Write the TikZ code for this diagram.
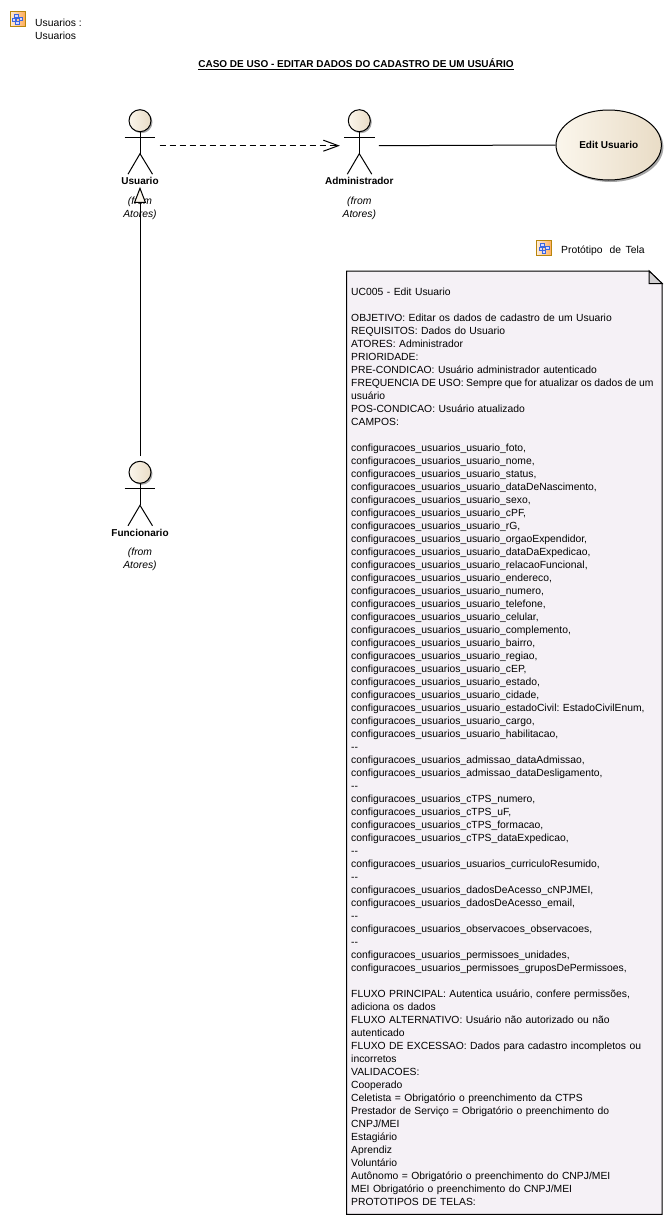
\documentclass[tikz,border=0pt]{standalone}
\usepackage{fontspec}
\setmainfont{Liberation Sans}
\usetikzlibrary{shapes.geometric, arrows.meta, positioning, calc, shadows, backgrounds}
\definecolor{atorclaro}{HTML}{FBF6EC}
\definecolor{atorescuro}{HTML}{E9DCC6}
\definecolor{notafundo}{HTML}{F5F1F6}
\definecolor{notasombra}{HTML}{B4B4B4}
\definecolor{notadobra}{HTML}{D2D0D2}
\definecolor{iconeborda}{HTML}{B8860B}
\definecolor{iconeazul}{HTML}{3A66E0}
\tikzstyle{texto} = [inner sep=0pt, align=left, font=\fontsize{10.35}{13}\selectfont\frenchspacing]
\tikzstyle{ator} = [rectangle, minimum width=38.6pt, minimum height=82pt, inner sep=0pt]
\tikzstyle{atornome} = [inner sep=0pt, font=\fontsize{10}{13}\selectfont\bfseries]
\tikzstyle{atororigem} = [inner sep=0pt, align=center, font=\fontsize{10.35}{13}\selectfont\itshape]
\tikzstyle{usecase} = [ellipse, minimum width=105.4pt, minimum height=70pt, inner sep=0pt, draw=black, line width=1pt, left color=atorclaro, right color=atorescuro, drop shadow={shadow xshift=2pt, shadow yshift=-2pt, fill=black!35, opacity=1}, font=\fontsize{10}{13}\selectfont\bfseries]
\tikzstyle{linha} = [line width=1pt, black]
\tikzstyle{dependencia} = [linha, dash pattern=on 6.5pt off 3.5pt, -{Straight Barb[length=15pt,width=11pt]}]
\tikzstyle{heranca} = [linha, -{Triangle[length=16pt,width=12pt,fill=atorclaro]}]
\tikzset{
  iconepacote/.pic={
    \shade[left color=orange!15, right color=orange!65, draw=iconeborda, line width=1pt] (0,0) rectangle (15,15);
    \draw[iconeazul, line width=.6pt] (6,4) -- (6,11) (4,6.5) -- (10.5,6.5);
    \draw[iconeazul, fill=blue!15, line width=.8pt] (4,2.5) rectangle (8,5.5) (2.5,6.5) rectangle (5.5,9.5) (9,6) rectangle (12.5,9) (5.5,10) rectangle (9,13);
  }
}
\begin{document}
\begin{tikzpicture}[x=1pt, y=-1pt]
\useasboundingbox (0,0) rectangle (671,1223);

% Cabecalho
\pic at (10,11.5) {iconepacote};
\node (pacote_usuarios) [texto, anchor=north west] at (35,19) {Usuarios :\\Usuarios};
\node (titulo) [inner sep=0pt, font=\fontsize{10}{13}\selectfont\bfseries] at (356,64) {\underline{CASO DE USO - EDITAR DADOS DO CADASTRO DE UM USUÁRIO}};

% Atores
\node (usuario) [ator] at (140,145.7) {};
\node (administrador) [ator] at (359.3,145.7) {};
\node (funcionario) [ator] at (140,497.3) {};
\foreach \atual in {usuario, administrador, funcionario} {
  \begin{scope}[shift={(\atual.center)}]
    \draw[linha, left color=atorclaro, right color=atorescuro, drop shadow={shadow xshift=1.5pt, shadow yshift=-1.5pt, fill=black!35, opacity=1}] (0,-25) circle (11pt);
    \draw[linha] (-15.3,-8.5) -- (15.3,-8.5);
    \draw[linha] (0,-14) -- (0,8);
    \draw[linha] (-12,28.5) -- (0,8) -- (12.5,28.5);
  \end{scope}
}

% Nomes dos atores
\node (usuario_nome) [atornome] at ([yshift=5.7pt]usuario.south) {Usuario};
\node (administrador_nome) [atornome] at ([yshift=5.7pt]administrador.south) {Administrador};
\node (funcionario_nome) [atornome] at ([yshift=5.7pt]funcionario.south) {Funcionario};
\node (usuario_origem) [atororigem] at ([yshift=-21.2pt]usuario.south) {(from\\Atores)};
\node (administrador_origem) [atororigem] at ([yshift=-21.2pt]administrador.south) {(from\\Atores)};
\node (funcionario_origem) [atororigem] at ([yshift=-21.2pt]funcionario.south) {(from\\Atores)};

% Caso de uso
\node (edit_usuario) [usecase] at (608.7,145) {Edit Usuario};

% Conexoes
\draw [dependencia] (usuario.east) -- (administrador.west);
\draw [linha] (administrador.east) -- (edit_usuario.west);
\draw [heranca] (funcionario.north) -- (usuario.south);

% Nota
\pic at (536.7,240.7) {iconepacote};
\node (prototipo) [texto, anchor=west] at (561,251) {Protótipo\hspace{7pt}de\hspace{4.5pt}Tela};
\node (nota) [texto, anchor=north west, minimum width=315.2pt, minimum height=943pt, text width=315.2pt, inner xsep=0pt, inner ysep=0pt] at (346.5,271) {\leftskip=4.5pt\mbox{}\\[8pt]
UC005 - Edit Usuario\\
\mbox{}\\
OBJETIVO: Editar os dados de cadastro de um Usuario\\
REQUISITOS: Dados do Usuario\\
ATORES: Administrador\\
PRIORIDADE:\\
PRE-CONDICAO: Usuário administrador autenticado\\
\mbox{\spaceskip=2.5pt\relax FREQUENCIA DE USO: Sempre que for atualizar os dados de um}\\
usuário\\
POS-CONDICAO: Usuário atualizado\\
CAMPOS:\\
\mbox{}\\
configuracoes\_usuarios\_usuario\_foto,\\
configuracoes\_usuarios\_usuario\_nome,\\
configuracoes\_usuarios\_usuario\_status,\\
configuracoes\_usuarios\_usuario\_dataDeNascimento,\\
configuracoes\_usuarios\_usuario\_sexo,\\
configuracoes\_usuarios\_usuario\_cPF,\\
configuracoes\_usuarios\_usuario\_rG,\\
configuracoes\_usuarios\_usuario\_orgaoExpendidor,\\
configuracoes\_usuarios\_usuario\_dataDaExpedicao,\\
configuracoes\_usuarios\_usuario\_relacaoFuncional,\\
configuracoes\_usuarios\_usuario\_endereco,\\
configuracoes\_usuarios\_usuario\_numero,\\
configuracoes\_usuarios\_usuario\_telefone,\\
configuracoes\_usuarios\_usuario\_celular,\\
configuracoes\_usuarios\_usuario\_complemento,\\
configuracoes\_usuarios\_usuario\_bairro,\\
configuracoes\_usuarios\_usuario\_regiao,\\
configuracoes\_usuarios\_usuario\_cEP,\\
configuracoes\_usuarios\_usuario\_estado,\\
configuracoes\_usuarios\_usuario\_cidade,\\
configuracoes\_usuarios\_usuario\_estadoCivil: EstadoCivilEnum,\\
configuracoes\_usuarios\_usuario\_cargo,\\
configuracoes\_usuarios\_usuario\_habilitacao,\\
-{}-\\
configuracoes\_usuarios\_admissao\_dataAdmissao,\\
configuracoes\_usuarios\_admissao\_dataDesligamento,\\
-{}-\\
configuracoes\_usuarios\_cTPS\_numero,\\
configuracoes\_usuarios\_cTPS\_uF,\\
configuracoes\_usuarios\_cTPS\_formacao,\\
configuracoes\_usuarios\_cTPS\_dataExpedicao,\\
-{}-\\
configuracoes\_usuarios\_usuarios\_curriculoResumido,\\
-{}-\\
configuracoes\_usuarios\_dadosDeAcesso\_cNPJMEI,\\
configuracoes\_usuarios\_dadosDeAcesso\_email,\\
-{}-\\
configuracoes\_usuarios\_observacoes\_observacoes,\\
-{}-\\
configuracoes\_usuarios\_permissoes\_unidades,\\
configuracoes\_usuarios\_permissoes\_gruposDePermissoes,\\
\mbox{}\\
FLUXO PRINCIPAL: Autentica usuário, confere permissões,\\
adiciona os dados\\
FLUXO ALTERNATIVO: Usuário não autorizado ou não\\
autenticado\\
FLUXO DE EXCESSAO: Dados para cadastro incompletos ou\\
incorretos\\
VALIDACOES:\\
Cooperado\\
Celetista = Obrigatório o preenchimento da CTPS\\
Prestador de Serviço = Obrigatório o preenchimento do\\
CNPJ/MEI\\
Estagiário\\
Aprendiz\\
Voluntário\\
Autônomo = Obrigatório o preenchimento do CNPJ/MEI\\
MEI Obrigatório o preenchimento do CNPJ/MEI\\
PROTOTIPOS DE TELAS:\rule[-5.5pt]{0pt}{1pt}\par};
\begin{scope}[on background layer]
  \fill[notasombra, xshift=2.5pt, yshift=-2.5pt] (nota.north west) -- ([xshift=-13pt]nota.north east) -- ([yshift=-12.5pt]nota.north east) -- (nota.south east) -- (nota.south west) -- cycle;
  \fill[notafundo, draw=black, line width=1pt] (nota.north west) -- ([xshift=-13pt]nota.north east) -- ([yshift=-12.5pt]nota.north east) -- (nota.south east) -- (nota.south west) -- cycle;
  \fill[notadobra, draw=black, line width=1pt] ([xshift=-13pt]nota.north east) -- ([yshift=-12.5pt]nota.north east) -- ([xshift=-13pt,yshift=-12.5pt]nota.north east) -- cycle;
\end{scope}

\end{tikzpicture}
\end{document}
